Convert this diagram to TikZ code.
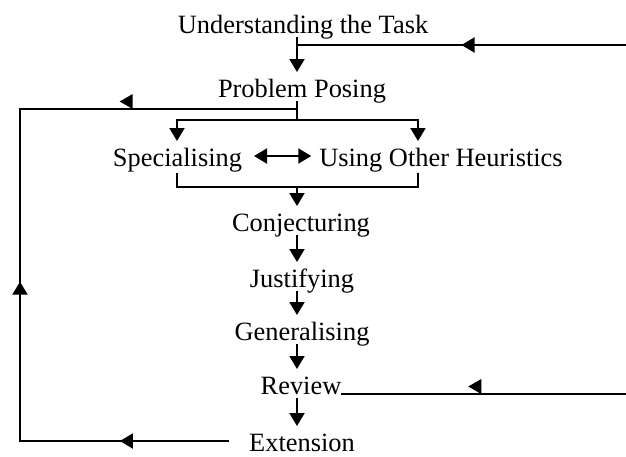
\documentclass[tikz,border=0pt]{standalone}
\usepackage{fontspec}
\setmainfont{Liberation Serif}
\usepackage{tikz}
\usetikzlibrary{arrows.meta, decorations.markings}

\tikzset{
  stage/.style={inner sep=0pt, text height=12pt, text depth=2pt, anchor=base},
  flow/.style={-{Triangle[length=6.5pt, width=7.5pt]}},
  twoway/.style={{Triangle[length=6.5pt, width=7.5pt]}-{Triangle[length=6.5pt, width=7.5pt]}},
  midarrow/.style={postaction={decorate, decoration={markings,
      mark=at position #1 with {\arrow{Triangle[length=6.5pt, width=7.5pt]}}}}},
  raisedarrow/.style={postaction={decorate, decoration={markings,
      mark=at position #1 with {\fill (0pt,-3.75pt) -- (-6.5pt,0pt) -- (-6.5pt,-7.5pt) -- cycle;}}}}
}

\begin{document}
\begin{tikzpicture}[x=0.5pt, y=-0.5pt, line width=1pt, line cap=rect, font=\fontsize{13.2pt}{16pt}\selectfont]
   \useasboundingbox (0,0) rectangle (626,456);

   \node[stage] (ut) at (303,33) {Understanding the Task};
   \node[stage] (pp) at (302,97) {Problem Posing};
   \node[stage] (sp) at (177.5,166) {Specialising};
   \node[stage] (uh) at (441,166) {Using Other Heuristics};
   \node[stage] (cj) at (301,231) {Conjecturing};
   \node[stage] (js) at (302,287) {Justifying};
   \node[stage] (gn) at (302,340) {Generalising};
   \node[stage] (rv) at (301,394) {Review};
   \node[stage] (ex) at (302,451) {Extension};

   \coordinate (ax) at (297,0);
   \coordinate (lx) at (20,0);
   \coordinate (rx) at (626,0);
   \coordinate (tin) at (626,45);
   \coordinate (ppj) at (297,109);
   \coordinate (brc) at (297,120);
   \coordinate (brl) at (177,120);
   \coordinate (brr) at (418,120);
   \coordinate (bbl) at (177,187);
   \coordinate (bbc) at (297,187);
   \coordinate (bbr) at (418,187);

   \draw[flow] (ut.south -| ax) -- (pp.north -| ax);
   \draw[midarrow=0.5] (tin) -- (tin -| ax);
   \draw (pp.south -| ax) -- (brc);
   \draw (brl) -- (brr);
   \draw[flow] (brl) -- (sp.north -| brl);
   \draw[flow] (brr) -- (uh.north -| brr);
   \draw[twoway, shorten <=5.5pt, shorten >=3.5pt] (sp.east) -- (uh.west);
   \draw[shorten <=1.5pt, shorten >=1.5pt] (sp.south -| brl) -- (bbl) -- (bbr) -- (uh.south -| brr);
   \draw[flow] (bbc) -- (cj.north -| ax);
   \foreach \a/\b in {cj/js, js/gn, gn/rv, rv/ex}
      \draw[flow] (\a.south -| ax) -- (\b.north -| ax);

   \draw[raisedarrow=0.556] (rv.base east -| rx) -- (rv.base east);
   \draw[raisedarrow=0.64] (ppj) -- (ppj -| lx);
   \draw[midarrow=0.48] (ex.west -| lx) -- (ppj -| lx);
   \draw[midarrow=0.52] ([xshift=-10pt]ex.west) -- (ex.west -| lx);
\end{tikzpicture}
\end{document}
